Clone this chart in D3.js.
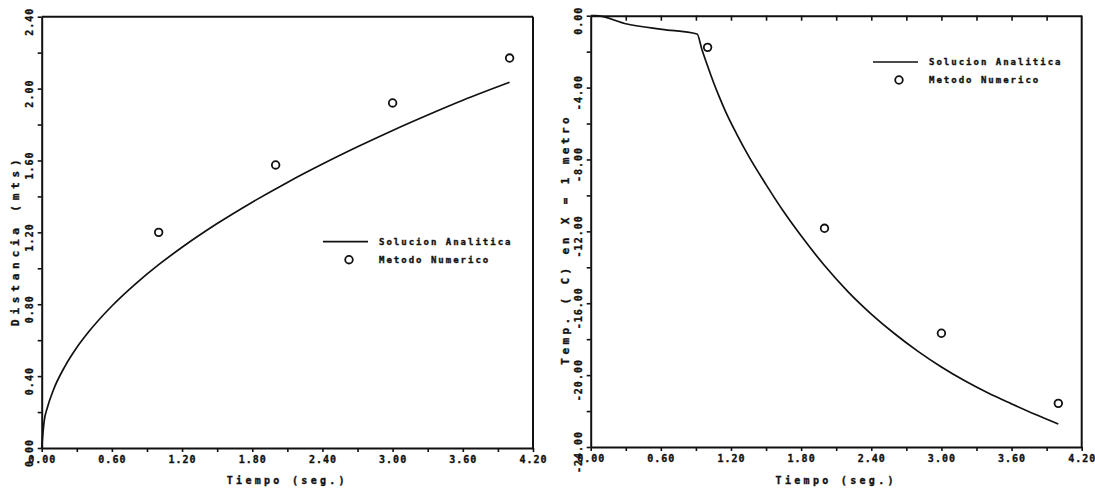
<!DOCTYPE html>
<html><head><meta charset="utf-8">
<script src="https://cdn.jsdelivr.net/npm/d3@7"></script>
<style>
body{margin:0;background:#fff;}
text{font-family:"DejaVu Sans Mono","Liberation Mono",monospace;font-weight:bold;fill:#111;stroke:#111;stroke-width:0.35px;}
</style>
</head><body>
<svg id="c" width="1095" height="492"></svg>
<script>
// ---- data ----
const timeTicks = [0, 0.6, 1.2, 1.8, 2.4, 3.0, 3.6, 4.2];
const distTicks = [0, 0.4, 0.8, 1.2, 1.6, 2.0, 2.4];
const tempTicks = [0, -4, -8, -12, -16, -20, -24];

const distCurveT = [0, 0.02, 0.05, 0.1, 0.2, 0.3, 0.4, 0.6, 0.8, 1.0, 1.2, 1.5, 1.8, 2.1, 2.4, 2.7, 3.0, 3.3, 3.6, 4.0];
const distCurveV = [0, 0.144, 0.228, 0.323, 0.456, 0.559, 0.645, 0.790, 0.912, 1.020, 1.117, 1.249, 1.368, 1.478, 1.580, 1.676, 1.767, 1.853, 1.935, 2.035];
const distPointsT = [1.0, 2.0, 3.0, 4.0];
const distPointsV = [1.20, 1.575, 1.92, 2.17];

const tempCurveT = [0, 0.04, 0.31, 0.61, 0.91, 0.95, 1.0, 1.05, 1.1, 1.15, 1.25, 1.35, 1.5, 1.65, 1.8, 2.0, 2.2, 2.4, 2.6, 2.8, 3.0, 3.2, 3.4, 3.6, 3.8, 4.0];
const tempCurveV = [0, 0, -0.46, -0.76, -1.02, -1.85, -2.8, -3.7, -4.52, -5.28, -6.6, -7.8, -9.4, -10.9, -12.25, -13.9, -15.35, -16.6, -17.7, -18.68, -19.55, -20.32, -21.0, -21.6, -22.18, -22.72];
const tempPointsT = [1.0, 2.0, 3.0, 4.0];
const tempPointsV = [-1.76, -11.83, -17.67, -21.57];

const legendLabels = ["Solucion Analitica", "Metodo Numerico"];
const xTitle = "Tiempo (seg.)";
const distTitle = "Distancia (mts)";
const tempTitle = "Temp. ( C) en X = 1 metro";

// ---- drawing ----
const svg = d3.select("#c");
const fmt = v => v.toFixed(2);
const mids = arr => d3.pairs(arr).map(([a, b]) => (a + b) / 2);

function panel(o) {
  const g = svg.append("g");
  const x = d3.scaleLinear().domain([0, 4.2]).range([o.x0, o.x1]);
  const y = d3.scaleLinear().domain(o.yDomain).range([o.yBot, o.yTop]);

  const xMajor = timeTicks;
  const xAll = xMajor.concat(mids(xMajor));
  const gx = g.append("g").attr("transform", `translate(0,${o.yBot})`)
    .call(d3.axisBottom(x).tickValues(xAll).tickSize(4).tickSizeOuter(0)
      .tickFormat(d => xMajor.some(m => Math.abs(m - d) < 1e-9) ? fmt(d) : ""));
  gx.select(".domain").attr("stroke", "#111").attr("stroke-width", 2);
  gx.selectAll(".tick line").attr("stroke", "#111").attr("stroke-width", 1.6);
  gx.selectAll(".tick text").attr("font-size", 10).attr("letter-spacing", 1)
    .attr("font-family", '"DejaVu Sans Mono",monospace').attr("font-weight", "bold")
    .attr("y", 8).attr("dy", "0.71em").attr("fill", "#111");

  const yAll = o.yTicks.concat(mids(o.yTicks));
  const gy = g.append("g").attr("transform", `translate(${o.x0},0)`)
    .call(d3.axisLeft(y).tickValues(yAll).tickSize(4).tickSizeOuter(0).tickFormat(""));
  gy.select(".domain").attr("stroke", "#111").attr("stroke-width", 2);
  gy.selectAll(".tick line").attr("stroke", "#111").attr("stroke-width", 1.6);

  g.selectAll(".ylab").data(o.yTicks).join("text")
    .attr("class", "ylab")
    .attr("transform", d => `translate(${o.x0 - 9},${y(d) + 5}) rotate(-90)`)
    .attr("text-anchor", "middle")
    .attr("font-size", 10).attr("letter-spacing", 1)
    .text(fmt);

  // top border
  if (o.topTicks) {
    const gt = g.append("g").attr("transform", `translate(0,${o.yTop})`)
      .call(d3.axisBottom(x).tickValues(mids(xMajor).concat(xMajor.slice(1, -1))).tickSize(5).tickSizeOuter(0).tickFormat(""));
    gt.select(".domain").attr("stroke", "#111").attr("stroke-width", 2);
    gt.selectAll(".tick line").attr("stroke", "#111").attr("stroke-width", 1.6);
  } else {
    g.append("line").attr("x1", o.x0).attr("x2", o.x1).attr("y1", o.yTop).attr("y2", o.yTop)
      .attr("stroke", "#111").attr("stroke-width", 2);
  }
  // right border
  g.append("line").attr("x1", o.x1).attr("x2", o.x1).attr("y1", o.yTop).attr("y2", o.yBot)
    .attr("stroke", "#111").attr("stroke-width", 2);

  // curve
  const pts = o.curveT.map((t, i) => [t, o.curveV[i]]);
  g.append("path").datum(pts)
    .attr("d", d3.line().x(d => x(d[0])).y(d => y(d[1])).curve(d3.curveMonotoneX))
    .attr("fill", "none").attr("stroke", "#111").attr("stroke-width", 1.7);

  // points
  g.selectAll(".pt").data(o.ptsT.map((t, i) => [t, o.ptsV[i]])).join("circle")
    .attr("class", "pt")
    .attr("cx", d => x(d[0])).attr("cy", d => y(d[1])).attr("r", 3.8)
    .attr("fill", "none").attr("stroke", "#111").attr("stroke-width", 1.8);

  // axis titles
  g.append("text").attr("x", (o.x0 + o.x1) / 2).attr("y", 484)
    .attr("text-anchor", "middle").attr("font-size", 10).attr("letter-spacing", 3.3)
    .text(xTitle);
  g.append("text")
    .attr("transform", `translate(${o.titleX},${(o.yTop + o.yBot) / 2 + 8}) rotate(-90)`)
    .attr("text-anchor", "middle").attr("font-size", 11).attr("letter-spacing", o.titleSpacing)
    .text(o.title);

  // legend
  const lx = o.legX, ly = o.legY;
  g.append("line").attr("x1", lx).attr("x2", lx + 45).attr("y1", ly).attr("y2", ly)
    .attr("stroke", "#111").attr("stroke-width", 1.7);
  g.append("circle").attr("cx", lx + 26).attr("cy", ly + 18).attr("r", 3.8)
    .attr("fill", "none").attr("stroke", "#111").attr("stroke-width", 1.8);
  g.selectAll(".leg").data(legendLabels).join("text").attr("class", "leg")
    .attr("x", lx + 56).attr("y", (d, i) => ly + 3 + i * 18)
    .attr("font-size", 9).attr("letter-spacing", 2)
    .text(d => d);
}

panel({
  x0: 41.7, x1: 533, yTop: 16.7, yBot: 448, yDomain: [0, 2.4], yTicks: distTicks,
  curveT: distCurveT, curveV: distCurveV, ptsT: distPointsT, ptsV: distPointsV,
  title: distTitle, titleX: 19, titleSpacing: 4.8, topTicks: false, legX: 323, legY: 241.7
});
panel({
  x0: 590.7, x1: 1081.7, yTop: 15.7, yBot: 447, yDomain: [-24, 0], yTicks: tempTicks,
  curveT: tempCurveT, curveV: tempCurveV, ptsT: tempPointsT, ptsV: tempPointsV,
  title: tempTitle, titleX: 569, titleSpacing: 3.4, topTicks: true, legX: 873, legY: 62
});
</script>
</body></html>
